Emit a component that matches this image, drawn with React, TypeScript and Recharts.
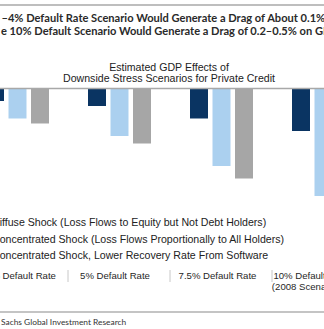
import React from 'react';
import { BarChart, Bar, XAxis, YAxis, ReferenceLine, Legend } from 'recharts';

// ---- data ----
const categories = ['2.5% Default Rate', '5% Default Rate', '7.5% Default Rate', '10% Default Rate (2008 Scenario)'];
const categoryLines = [['2.5% Default Rate'], ['5% Default Rate'], ['7.5% Default Rate'], ['10% Default Rate', '(2008 Scenario)']];
const diffuseShock = [-0.05, -0.07, -0.12, -0.17];
const concentratedShock = [-0.12, -0.19, -0.31, -0.43];
const concentratedSoftware = [-0.14, -0.22, -0.36, -0.5];
const seriesNames = [
  'Diffuse Shock (Loss Flows to Equity but Not Debt Holders)',
  'Concentrated Shock (Loss Flows Proportionally to All Holders)',
  'Concentrated Shock, Lower Recovery Rate From Software',
];
const yDomain = [-0.7, 0];

const data = categories.map((c, i) => ({
  category: c,
  diffuse: diffuseShock[i],
  concentrated: concentratedShock[i],
  software: concentratedSoftware[i],
}));

// ---- styles ----
const COLORS = ['#0a3462', '#abd0ef', '#a6a6a6'];
const CHART_W = 408;
const CHART_H = 329;
const CHART_LEFT = -34.5;
const HALF_BAND = CHART_W / categories.length / 2;
const LABEL_SHIFT = [[0], [-4], [-3.5], [-12, -17]];
const AXIS_FONT = '"Liberation Sans", Arial, sans-serif';
const TITLE_FONT = 'Lato, "Open Sans", sans-serif';

const CategoryTick = (props: any) => {
  const { x, y, payload } = props;
  const idx = categories.indexOf(payload.value);
  const lines = categoryLines[idx] || [payload.value];
  const shifts = LABEL_SHIFT[idx] || [0];
  return (
    <g>
      <line x1={x - HALF_BAND} x2={x - HALF_BAND} y1={y + 6.5} y2={y + 18.5} stroke="#c8c8c8" strokeWidth={1} />
      {lines.map((l, i) => (
        <text
          key={i}
          x={x + (shifts[i] ?? shifts[0])}
          y={y + 15.5 + i * 11}
          textAnchor="middle"
          fontFamily={AXIS_FONT}
          fontSize={9.6}
          fill="#262626"
        >
          {l}
        </text>
      ))}
    </g>
  );
};

const LegendContent = (props: any) => {
  const payload = [...(props.payload || [])].sort(
    (a: any, b: any) => seriesNames.indexOf(a.value) - seriesNames.indexOf(b.value)
  );
  return (
    <div style={{ fontFamily: AXIS_FONT, fontSize: 10.6, color: '#222' }}>
      {payload.map((p: any, i: number) => (
        <div key={i} style={{ display: 'flex', alignItems: 'center', height: 16.5, whiteSpace: 'nowrap' }}>
          <span style={{ display: 'inline-block', width: 10, height: 10, background: p.color, marginRight: 6 }} />
          <span>{p.value}</span>
        </div>
      ))}
    </div>
  );
};

export default function App() {
  return (
    <div style={{ position: 'absolute', left: 0, top: 0, width: 324, height: 329, overflow: 'hidden', background: '#fff' }}>
      <div style={{ position: 'absolute', left: CHART_LEFT, top: 0 }}>
        <BarChart
          width={CHART_W}
          height={CHART_H}
          data={data}
          margin={{ top: 88.5, right: 0, bottom: 0, left: 0 }}
          barSize={18}
          barGap={4.5}
        >
          <XAxis
            dataKey="category"
            height={65.5}
            axisLine={false}
            tickLine={false}
            tickSize={0}
            tickMargin={0}
            interval={0}
            tick={<CategoryTick />}
          />
          <YAxis hide width={0} domain={yDomain} />
          <ReferenceLine y={0} stroke="#a8a8a8" strokeWidth={1.3} />
          <Bar dataKey="diffuse" name={seriesNames[0]} fill={COLORS[0]} isAnimationActive={false} />
          <Bar dataKey="concentrated" name={seriesNames[1]} fill={COLORS[1]} isAnimationActive={false} />
          <Bar dataKey="software" name={seriesNames[2]} fill={COLORS[2]} isAnimationActive={false} />
          <Legend
            layout="vertical"
            align="center"
            verticalAlign="middle"
            content={<LegendContent />}
            wrapperStyle={{ position: 'absolute', left: 10.5, top: 213.75, width: 380 }}
          />
        </BarChart>
      </div>
      <svg width={324} height={329} style={{ position: 'absolute', left: 0, top: 0, pointerEvents: 'none' }}>
        <line x1={0} x2={324} y1={5} y2={5} stroke="#a8a8a8" strokeWidth={1.5} />
        <g fontFamily={TITLE_FONT} fontWeight={700} fontSize={11.1} fill="#2a2a2a">
          <text x={-1} y={22} textAnchor="end">Exhibit: A 2</text>
          <text x={1.5} y={22}>–4% Default Rate Scenario Would Generate a Drag of About 0.1% on GDP,</text>
          <text x={-1.5} y={35} textAnchor="end">While th</text>
          <text x={1} y={35}>e 10% Default Scenario Would Generate a Drag of 0.2–0.5% on GDP</text>
        </g>
        <g fontFamily={AXIS_FONT} fontSize={10.6} fill="#222" textAnchor="middle">
          <text x={169} y={70.5}>Estimated GDP Effects of</text>
          <text x={169} y={82}>Downside Stress Scenarios for Private Credit</text>
        </g>
        <line x1={0} x2={324} y1={312} y2={312} stroke="#c4c4c4" strokeWidth={2} />
        <g fontFamily={TITLE_FONT} fontSize={8.4} fill="#333">
          <text x={-1.5} y={325} textAnchor="end">Source: Goldman</text>
          <text x={1} y={325}>Sachs Global Investment Research</text>
        </g>
      </svg>
    </div>
  );
}
